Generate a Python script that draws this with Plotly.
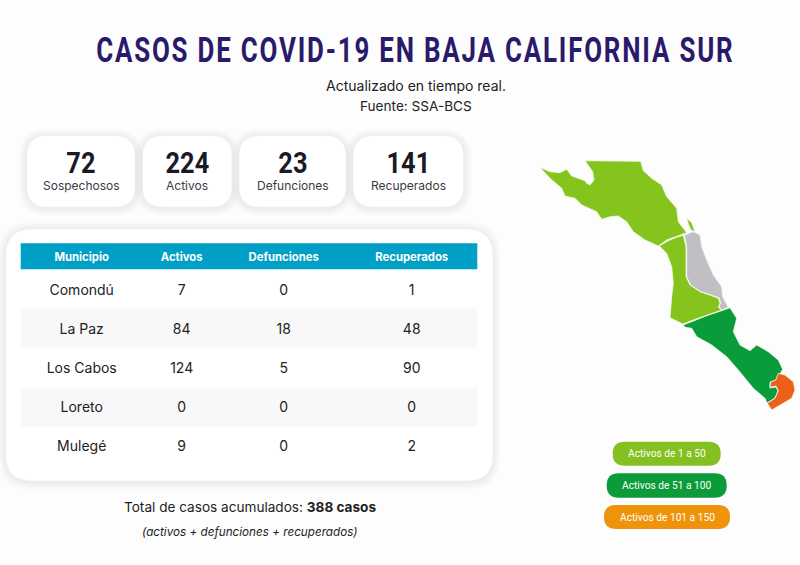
import plotly.graph_objects as go

# table data
municipios = ['Comondú', 'La Paz', 'Los Cabos', 'Loreto', 'Mulegé']
activos = [7, 84, 124, 0, 9]
defunciones = [0, 18, 5, 0, 0]
recuperados = [1, 48, 90, 0, 2]
columnas = ['Municipio', 'Activos', 'Defunciones', 'Recuperados']

# summary cards
card_values = [72, 224, 23, 141]
card_labels = ['Sospechosos', 'Activos', 'Defunciones', 'Recuperados']

legend_labels = ['Activos de 1 a 50', 'Activos de 51 a 100', 'Activos de 101 a 150']

# map outlines, in the picture's pixels
mulege_x = [540, 550, 560, 566.7, 571.7, 585, 586.7, 590, 594, 592.7, 585, 640.7, 643.3, 651.7, 661.7, 666.7, 676.7,
            678.3, 686.7, 676.7, 666.7, 658.3, 645, 633.3, 626.7, 618.3, 610, 601.7, 596.7, 581.7, 575, 565, 561.7, 550]
mulege_y = [167.3, 171.7, 172.7, 169.3, 176, 180.7, 183.3, 185, 180, 171.7, 160.7, 161.3, 170.7, 178.3, 185, 196.7,
            208.3, 221.7, 232.7, 236, 240, 246, 240, 231.7, 221.7, 216, 216.7, 219.3, 211.7, 205, 198.3, 196, 188.3, 178.3]
isla_x = [686.7, 691.7, 695, 691, 688.3]
isla_y = [218.3, 222.7, 231.7, 230, 224]
comondu_x = [659.3, 668.3, 676.7, 683.3, 686, 686, 690, 700, 711.7, 718.3, 720, 718.3, 721.7, 706.7, 693.3, 682.7,
             670, 671.7, 673.3, 671.7, 666.7]
comondu_y = [246, 240.7, 237.3, 235.3, 246.7, 276.7, 285, 291.7, 295.7, 298.3, 303.3, 307.3, 310, 315, 320, 324,
             317.7, 296.7, 283.3, 266.7, 253.3]
loreto_x = [684.3, 693.3, 700, 701.7, 706.7, 713.3, 721.7, 722.7, 728.3, 721.7, 719, 720.7, 719, 711.7, 700, 690.7,
            686.7, 686.7]
loreto_y = [235, 231.7, 235, 246.7, 260, 275, 286.7, 296.7, 307.3, 310, 306.7, 302.7, 297.7, 295, 291.3, 285,
            276.7, 246.7]
lapaz_x = [683.3, 693.3, 706.7, 721.7, 730, 736.7, 733.3, 740, 750, 756.7, 768.3, 778.3, 782.7, 780, 776, 770, 770,
           776, 778, 775, 767, 765, 753.3, 738.3, 726.7, 711.7, 696.7, 691.7, 685]
lapaz_y = [325, 321, 315.7, 310.7, 307.7, 318.3, 331.7, 345, 350.7, 345, 351.7, 360, 369.3, 374, 380, 382, 388,
           387, 391, 398, 403, 398.3, 388.3, 370, 356.7, 345, 336.7, 328.3, 327.3]
cabos_x = [778.3, 785, 793.3, 795, 791.7, 780, 771.7, 767.3, 775, 778.3, 776, 770, 770.7, 775.7]
cabos_y = [373.3, 375, 381.7, 390, 398.3, 405, 410, 403.3, 398.3, 390.7, 386, 387.3, 382, 380]

LIGHT = '#84c41c'
DARK = '#0a9c3a'
GREY = '#c0c0c4'
ORANGE = '#ee5f1a'
BODY_FONT = 'Inter'
HEAD_FONT = 'Roboto'
TITLE = 'CASOS DE COVID-19 EN BAJA CALIFORNIA SUR'


def rounded(x0, y0, x1, y1, r):
    return (f'M{x0+r},{y0} L{x1-r},{y0} Q{x1},{y0} {x1},{y0+r} L{x1},{y1-r} Q{x1},{y1} {x1-r},{y1} '
            f'L{x0+r},{y1} Q{x0},{y1} {x0},{y1-r} L{x0},{y0+r} Q{x0},{y0} {x0+r},{y0} Z')


def box(x0, y0, x1, y1, r, color):
    return dict(type='path', path=rounded(x0, y0, x1, y1, r), fillcolor=color, line_width=0, layer='below')


def card(x0, y0, x1, y1, r):
    # stacked faint boxes stand in for the drop shadow
    out = []
    for grow in [8, 6, 4, 2]:
        out.append(box(x0 - grow, y0 - grow + 1, x1 + grow, y1 + grow + 1, r + grow, 'rgba(0,0,0,0.016)'))
    out.append(box(x0, y0, x1, y1, r, 'white'))
    return out


def label(x, y, text, size, color='#222222', family=BODY_FONT):
    return dict(x=x, y=y, text=text, showarrow=False, xanchor='center', yanchor='middle',
                font=dict(size=size, color=color, family=family))


fig = go.Figure()

for xs, ys, color in [(mulege_x, mulege_y, LIGHT), (isla_x, isla_y, LIGHT), (comondu_x, comondu_y, LIGHT),
                      (loreto_x, loreto_y, GREY), (lapaz_x, lapaz_y, DARK), (cabos_x, cabos_y, ORANGE)]:
    fig.add_trace(go.Scatter(x=xs + xs[:1], y=ys + ys[:1], mode='lines', fill='toself', fillcolor=color,
                             line=dict(color='#f4f8ea', width=0.8), hoverinfo='skip', showlegend=False))

# table cells are see-through, the header band and row stripes are shapes behind them
fig.add_trace(go.Table(
    domain=dict(x=[20.7 / 800, 477.3 / 800], y=[1 - 476 / 565, 1 - 241.5 / 565]),
    columnwidth=[122, 78, 126, 130],
    header=dict(values=[f'<b>{c}</b>' for c in columnas], height=34.5, fill_color='rgba(0,0,0,0)',
                line_width=0, line_color='rgba(0,0,0,0)', align='center',
                font=dict(size=11.3, color='white', family=BODY_FONT)),
    cells=dict(values=[municipios, activos, defunciones, recuperados], height=39, fill_color='rgba(0,0,0,0)',
               line_width=0, line_color='rgba(0,0,0,0)', align='center',
               font=dict(size=14, color='#222222', family=BODY_FONT)),
))

shapes = []
annotations = [
    label(415.5, 50, f'<b>{TITLE}</b>', 36, '#2a1a6b', HEAD_FONT),
    label(416, 85.5, 'Actualizado en tiempo real.', 14),
    label(415.5, 106, 'Fuente: SSA-BCS', 13.6),
    label(250, 507, 'Total de casos acumulados: <b>388 casos</b>', 13.6),
    label(250, 532, '<i>(activos + defunciones + recuperados)</i>', 11.7),
]

card_x = [(27, 135), (142.7, 231.7), (239.3, 345.7), (353.3, 463.3)]
for (x0, x1), value, text in zip(card_x, card_values, card_labels):
    shapes += card(x0, 136, x1, 206.7, 20)
    center = (x0 + x1) / 2
    annotations.append(label(center, 163, f'<b>{value}</b>', 29.5, '#1a1a26', HEAD_FONT))
    annotations.append(label(center, 185, text, 12, '#3a3a44'))

shapes += card(6, 229.3, 492.7, 480.7, 26)
shapes.append(dict(type='rect', x0=20.7, x1=477.3, y0=243.3, y1=269.3, fillcolor='#00a0c6', line_width=0, layer='below'))
for y0 in [308.5, 387.5]:
    shapes.append(dict(type='rect', x0=20.7, x1=477.3, y0=y0, y1=y0 + 39, fillcolor='#f8f8f8', line_width=0, layer='below'))

pill_x = [(612.7, 720.7), (606.7, 726.7), (604, 730)]
pill_y = [(441.7, 465.7), (473.3, 497.7), (505, 529)]
pill_colors = ['#84c01f', '#0c9b3a', '#ef930a']
for (x0, x1), (y0, y1), color, text in zip(pill_x, pill_y, pill_colors, legend_labels):
    shapes.append(box(x0, y0, x1, y1, 12, color))
    annotations.append(label((x0 + x1) / 2, (y0 + y1) / 2, text, 10.2, 'white', 'Roboto'))

fig.update_layout(
    width=800, height=565, margin=dict(l=0, r=0, t=0, b=0),
    paper_bgcolor='#fdfdfd', plot_bgcolor='#fdfdfd', showlegend=False,
    xaxis=dict(range=[0, 800], visible=False, fixedrange=True),
    yaxis=dict(range=[565, 0], visible=False, fixedrange=True),
    shapes=shapes, annotations=annotations,
)

# no condensed font is installed: squeeze the headline and card numbers, and drop the page margin
post = """
document.body.style.margin = '0';
document.querySelectorAll('.annotation-text').forEach(function (t) {
    var s = t.textContent, k = null;
    if (s.indexOf('CASOS DE') === 0) { k = 0.72; t.style.letterSpacing = '2.5px'; }
    else if (/^[0-9]+$/.test(s)) { k = 0.86; }
    if (k) {
        t.style.transformBox = 'fill-box';
        t.style.transformOrigin = 'center';
        t.style.transform = 'scaleX(' + k + ')';
    }
});
"""
fig.write_html('out.html', config={'displayModeBar': False}, post_script=post)
